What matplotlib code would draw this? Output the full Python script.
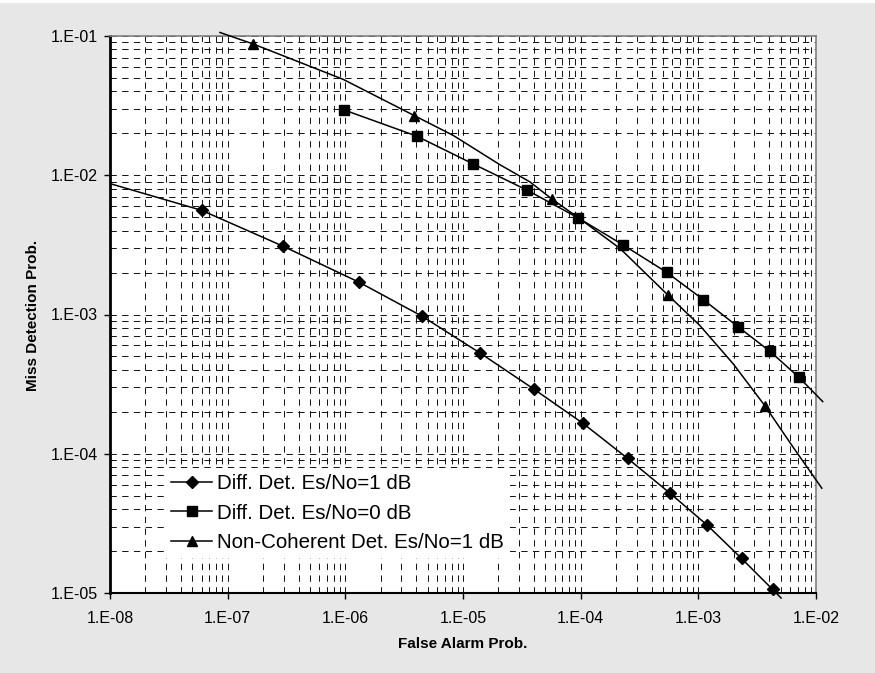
import numpy as np
import matplotlib
matplotlib.use("Agg")
import matplotlib.pyplot as plt
from matplotlib.ticker import FixedLocator, FuncFormatter, NullFormatter
from matplotlib.patches import Rectangle

# ---- data ----
diff1_mx = [6.0e-8, 2.94e-7, 1.30e-6, 4.51e-6, 1.39e-5, 4.01e-5, 1.05e-4, 2.51e-4, 5.74e-4, 1.19e-3, 2.33e-3, 4.28e-3]
diff1_my = [5.6e-3, 3.10e-3, 1.71e-3, 9.7e-4, 5.3e-4, 2.91e-4, 1.65e-4, 9.25e-5, 5.21e-5, 3.07e-5, 1.77e-5, 1.06e-5]
diff1_lx = [1.0e-8] + diff1_mx + [5.05e-3]
diff1_ly = [8.71e-3] + diff1_my + [9.2e-6]

diff0_mx = [9.8e-7, 4.04e-6, 1.21e-5, 3.52e-5, 9.44e-5, 2.28e-4, 5.38e-4, 1.10e-3, 2.16e-3, 4.06e-3, 7.16e-3]
diff0_my = [2.94e-2, 1.91e-2, 1.21e-2, 7.8e-3, 4.96e-3, 3.17e-3, 2.01e-3, 1.28e-3, 8.2e-4, 5.44e-4, 3.54e-4]
diff0_lx = diff0_mx + [1.14e-2]
diff0_ly = diff0_my + [2.37e-4]

nc_mx = [1.65e-7, 3.86e-6, 5.74e-5, 5.56e-4, 3.68e-3]
nc_my = [8.76e-2, 2.68e-2, 6.72e-3, 1.37e-3, 2.21e-4]
nc_lx = [8.6e-8, 1.65e-7, 9.6e-7, 3.86e-6, 8.28e-6, 2.06e-5, 3.71e-5, 5.74e-5, 9.55e-5,
         2.16e-4, 5.56e-4, 1.03e-3, 1.98e-3, 3.68e-3, 6.41e-3, 1.12e-2]
nc_ly = [0.106, 8.76e-2, 4.88e-2, 2.68e-2, 1.93e-2, 1.19e-2, 8.95e-3, 6.72e-3, 4.96e-3,
         2.98e-3, 1.37e-3, 8.34e-4, 4.42e-4, 2.21e-4, 1.11e-4, 5.66e-5]

x_ticks = [1e-8, 1e-7, 1e-6, 1e-5, 1e-4, 1e-3, 1e-2]
x_ticklabels = ["1.E-08", "1.E-07", "1.E-06", "1.E-05", "1.E-04", "1.E-03", "1.E-02"]
y_ticks = [1e-5, 1e-4, 1e-3, 1e-2, 1e-1]
y_ticklabels = ["1.E-05", "1.E-04", "1.E-03", "1.E-02", "1.E-01"]

labels = ["Diff. Det. Es/No=1 dB", "Diff. Det. Es/No=0 dB", "Non-Coherent Det. Es/No=1 dB"]
x_title = "False Alarm Prob."
y_title = "Miss Detection Prob."

plt.rcParams['font.family'] = ['Liberation Sans', 'DejaVu Sans']

W, H = 875, 673
fig = plt.figure(figsize=(W / 100, H / 100), dpi=100)
fig.patch.set_facecolor('white')
fig.patches.append(Rectangle((0, 0), 1, 1 - 3 / H, transform=fig.transFigure,
                             facecolor='#e7e7e7', edgecolor='none', zorder=-10))

L, R, T, B = 110, 816, 36, 593
ax = fig.add_axes([L / W, 1 - B / H, (R - L) / W, (B - T) / H])
ax.set_facecolor('white')
ax.set_xscale('log')
ax.set_yscale('log')
ax.set_xlim(1e-8, 1e-2)
ax.set_ylim(1e-5, 1e-1)

ax.set_xticks(x_ticks)
ax.set_xticklabels(x_ticklabels)
ax.set_yticks(y_ticks)
ax.set_yticklabels(y_ticklabels)
x_minor = [m * 10.0 ** e for e in range(-8, -2) for m in range(2, 10)]
y_minor = [m * 10.0 ** e for e in range(-5, -1) for m in range(2, 10)]
ax.xaxis.set_minor_locator(FixedLocator(x_minor))
ax.yaxis.set_minor_locator(FixedLocator(y_minor))
ax.xaxis.set_minor_formatter(NullFormatter())
ax.yaxis.set_minor_formatter(NullFormatter())

ax.grid(which='both', color='black', linestyle=(0, (7, 6)), linewidth=0.65, zorder=0)
ax.set_axisbelow(True)

ax.tick_params(which='major', direction='out', length=4, width=1, color='black',
               labelsize=11.5, top=False, right=False)
ax.tick_params(axis='x', which='major', pad=9)
ax.tick_params(axis='y', which='major', pad=5)
ax.tick_params(which='minor', length=0)

for s in ['top', 'right']:
    ax.spines[s].set_color('#808080')
    ax.spines[s].set_linewidth(1.2)
ax.spines['left'].set_color('black')
ax.spines['left'].set_linewidth(2.0)
ax.spines['bottom'].set_color('black')
ax.spines['bottom'].set_linewidth(1.5)

lw = 1.1
ax.plot(diff1_lx, diff1_ly, color='black', lw=lw, clip_on=False, zorder=3)
ax.plot(diff1_mx, diff1_my, linestyle='none', marker='D', ms=6.5, color='black', clip_on=False, zorder=4)
ax.plot(diff0_lx, diff0_ly, color='black', lw=lw, clip_on=False, zorder=3)
ax.plot(diff0_mx, diff0_my, linestyle='none', marker='s', ms=7.2, color='black', clip_on=False, zorder=4)
ax.plot(nc_lx, nc_ly, color='black', lw=lw, clip_on=False, zorder=3)
ax.plot(nc_mx, nc_my, linestyle='none', marker='^', ms=7.2, color='black', clip_on=False, zorder=4)

h1, = ax.plot([], [], color='black', lw=lw, marker='D', ms=6.5)
h2, = ax.plot([], [], color='black', lw=lw, marker='s', ms=7.2)
h3, = ax.plot([], [], color='black', lw=lw, marker='^', ms=7.2)
leg = ax.legend([h1, h2, h3], labels, loc='lower left',
                bbox_to_anchor=((165 - L) / (R - L), (B - 558) / (B - T)),
                borderaxespad=0, frameon=True, fancybox=False, framealpha=1,
                edgecolor='none', facecolor='white', fontsize=14.8,
                handlelength=2.0, handletextpad=0.25, labelspacing=0.5,
                borderpad=0.3, numpoints=1)
leg.set_zorder(5)

fig.text(463 / W, 1 - 644 / H, x_title, ha='center', va='center', fontsize=11, fontweight='bold')
fig.text(33 / W, 1 - 315 / H, y_title, ha='center', va='center', fontsize=11,
         fontweight='bold', rotation=90)

fig.savefig('out.png', dpi=100, facecolor=fig.get_facecolor())
